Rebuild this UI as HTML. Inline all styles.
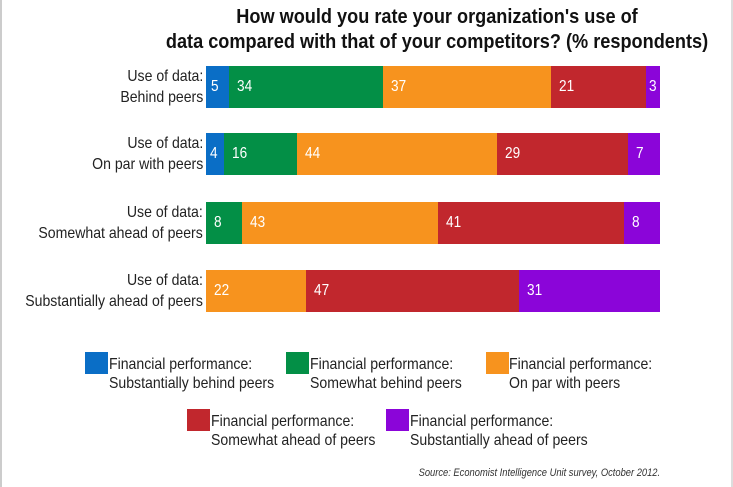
<!DOCTYPE html>
<html><head><style>
body{margin:0;width:733px;height:487px;background:#fff;position:relative;overflow:hidden;font-family:"Liberation Sans",sans-serif;color:#222}
.a{position:absolute}
.t{font-weight:bold;font-size:20px;left:0;width:874px;line-height:25px;top:5px;color:#111}
.t span{display:block;white-space:nowrap;text-align:center;transform:scaleX(0.907);transform-origin:50% 0}
.bar{position:absolute;left:206px;width:454px;height:42px;display:flex}
.bar div{height:100%;color:#fff;font-size:16px;line-height:42px;padding-left:8px;box-sizing:border-box;overflow:visible;white-space:nowrap}
.bar span{display:inline-block;transform:scaleX(0.85);transform-origin:0 50%}
.lab{position:absolute;right:530px;text-align:right;font-size:16px;line-height:21px;white-space:nowrap;transform:scaleX(0.88);transform-origin:100% 0}
.b{background:#0a6ec6}.g{background:#038f46}.o{background:#f7931e}.r{background:#c1272d}.p{background:#8b05d9}
.sq{position:absolute;width:23px;height:22px}
.lt{position:absolute;font-size:16px;line-height:19px;white-space:nowrap;transform:scaleX(0.88);transform-origin:0 0}
</style></head><body>
<div class="a" style="left:0;top:0;width:2px;height:487px;background:#ccc"></div>
<div class="a" style="right:0;top:0;width:2px;height:487px;background:#ddd"></div>
<div class="a t"><span>How would you rate your organization's use of</span><span>data compared with that of your competitors? (% respondents)</span></div>

<div class="lab" style="top:66px">Use of data:<br>Behind peers</div>
<div class="bar" style="top:66px"><div class="b" style="width:5%;padding-left:5px"><span>5</span></div><div class="g" style="width:34%"><span>34</span></div><div class="o" style="width:37%"><span>37</span></div><div class="r" style="width:21%"><span>21</span></div><div class="p" style="width:3%;padding-left:3px"><span>3</span></div></div>

<div class="lab" style="top:133px">Use of data:<br>On par with peers</div>
<div class="bar" style="top:133px"><div class="b" style="width:4%;padding-left:4px"><span>4</span></div><div class="g" style="width:16%"><span>16</span></div><div class="o" style="width:44%"><span>44</span></div><div class="r" style="width:29%"><span>29</span></div><div class="p" style="width:7%"><span>7</span></div></div>

<div class="lab" style="top:202px">Use of data:<br>Somewhat ahead of peers</div>
<div class="bar" style="top:202px"><div class="g" style="width:8%"><span>8</span></div><div class="o" style="width:43%"><span>43</span></div><div class="r" style="width:41%"><span>41</span></div><div class="p" style="width:8%"><span>8</span></div></div>

<div class="lab" style="top:270px">Use of data:<br>Substantially ahead of peers</div>
<div class="bar" style="top:270px"><div class="o" style="width:22%"><span>22</span></div><div class="r" style="width:47%"><span>47</span></div><div class="p" style="width:31%"><span>31</span></div></div>

<div class="sq b" style="left:85px;top:352px"></div><div class="lt" style="left:109px;top:355px">Financial performance:<br>Substantially behind peers</div>
<div class="sq g" style="left:286px;top:352px"></div><div class="lt" style="left:310px;top:355px">Financial performance:<br>Somewhat behind peers</div>
<div class="sq o" style="left:486px;top:352px"></div><div class="lt" style="left:509px;top:355px">Financial performance:<br>On par with peers</div>
<div class="sq r" style="left:187px;top:409px"></div><div class="lt" style="left:211px;top:412px">Financial performance:<br>Somewhat ahead of peers</div>
<div class="sq p" style="left:386px;top:409px"></div><div class="lt" style="left:410px;top:412px">Financial performance:<br>Substantially ahead of peers</div>

<div class="a" style="right:73px;top:467px;font-size:11px;font-style:italic;color:#333;white-space:nowrap;transform:scaleX(0.85);transform-origin:100% 0">Source: Economist Intelligence Unit survey, October 2012.</div>
</body></html>
